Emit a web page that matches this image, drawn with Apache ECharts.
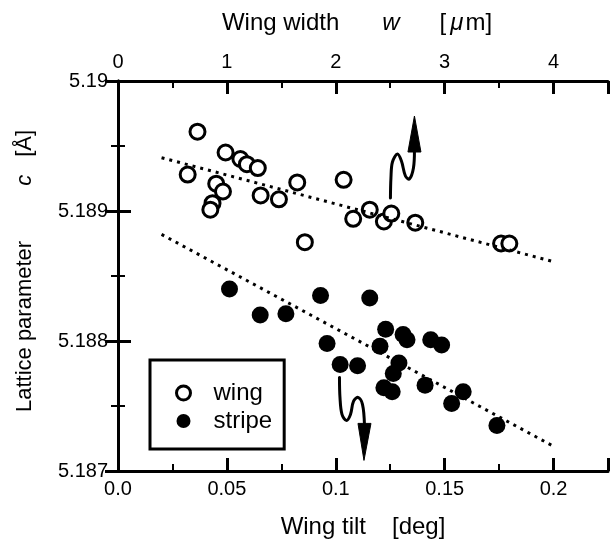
<!DOCTYPE html>
<html>
<head>
<meta charset="utf-8">
<script src="https://cdn.jsdelivr.net/npm/echarts@6/dist/echarts.min.js"></script>
<style>
    html, body { margin: 0; padding: 0; background: #fff; }
    #chart { width: 611px; height: 544px; }
</style>
</head>
<body>
<div id="chart"></div>
<script>
// wing: open circles, [tilt (deg), lattice parameter c (A)]
var wingTilt = [0.0365, 0.0320, 0.0494, 0.0562, 0.0592, 0.0642, 0.0451, 0.0482, 0.0434, 0.0424, 0.0655,
    0.0739, 0.0823, 0.0858, 0.1036, 0.1080, 0.1156, 0.1221, 0.1255, 0.1365, 0.1759, 0.1797];
var wingC = [5.18961, 5.18928, 5.18945, 5.18940, 5.18936, 5.18933, 5.18921, 5.18915, 5.18906, 5.18901, 5.18912,
    5.18909, 5.18922, 5.18876, 5.18924, 5.18894, 5.18901, 5.18892, 5.18898, 5.18891, 5.18875, 5.18875];
// stripe: filled circles
var stripeTilt = [0.0512, 0.0653, 0.0771, 0.0930, 0.1156, 0.0960, 0.1020, 0.1100, 0.1229, 0.1203, 0.1264,
    0.1221, 0.1309, 0.1327, 0.1436, 0.1486, 0.1290, 0.1259, 0.1410, 0.1585, 0.1532, 0.1740];
var stripeC = [5.18840, 5.18820, 5.18821, 5.18835, 5.18833, 5.18798, 5.18782, 5.18781, 5.18809, 5.18796, 5.18775,
    5.18764, 5.18805, 5.18801, 5.18801, 5.18797, 5.18783, 5.18761, 5.18766, 5.18761, 5.18752, 5.18735];
// dotted guide lines (end points)
var wingFitTilt = [0.02, 0.2];
var wingFitC = [5.18941, 5.18861];
var stripeFitTilt = [0.02, 0.2];
var stripeFitC = [5.18882, 5.18719];
// arrow tails (data coords)
var arrowUp = [0.1251, 5.18910];
var arrowDown = [0.1017, 5.18772];

var FONT = '"Liberation Sans", Arial, Helvetica, sans-serif';

function pairs(xs, ys) {
    return xs.map(function (x, i) { return [x, ys[i]]; });
}

var chart = echarts.init(document.getElementById("chart"));

var tickMajor = { show: true, inside: true, length: 13, lineStyle: { color: '#000', width: 3 } };
var tickMinor = { show: true, inside: true, length: 7, lineStyle: { color: '#000', width: 2 } };
var line3 = { show: true, lineStyle: { color: '#000', width: 3 } };
var labelStyle = { color: '#000', fontSize: 20, fontFamily: FONT };

function txt(size, extra) {
    return Object.assign({ fontSize: size, fontFamily: FONT, color: '#000' }, extra || {});
}
var bottomRich = {
    n: txt(24),
    b: txt(24, { padding: [0, 0, 0, 26] })
};
var topRich = {
    n: txt(24),
    w: txt(24, { fontStyle: 'italic', padding: [0, 40, 0, 43] }),
    mu: txt(24, { fontStyle: 'italic', padding: [0, 2, 0, 4] }),
    e: txt(24, { padding: [0, 12, 0, 0] })
};
var leftRich = {
    s: txt(22, { padding: [0, 0, 0, 10] }),
    n: txt(22),
    c: txt(22, { fontStyle: 'italic', padding: [0, 18, 0, 55] })
};

function minorAxis(pos, min, max, step) {
    return {
        type: 'value', position: pos, min: min, max: max, interval: step,
        axisLine: { show: false }, axisTick: tickMinor, axisLabel: { show: false }, splitLine: { show: false }
    };
}

var option = {
    animation: false,
    backgroundColor: '#fff',
    grid: { left: 118, top: 81, width: 495, height: 392 },
    legend: {
        orient: 'vertical',
        left: 150,
        top: 360,
        selectedMode: false,
        borderColor: '#000',
        borderWidth: 3,
        padding: [21, 12, 16, 25],
        itemWidth: 50,
        itemHeight: 14,
        itemGap: 4,
        textStyle: { fontSize: 24, fontFamily: FONT, color: '#000' },
        data: [
            { name: 'wing', itemStyle: { color: '#fff', borderColor: '#000', borderWidth: 3 } },
            { name: 'stripe' }
        ]
    },
    xAxis: [
        {
            type: 'value', position: 'bottom', min: 0, max: 0.225, interval: 0.05,
            axisLine: line3, axisTick: tickMajor, splitLine: { show: false },
            axisLabel: Object.assign({
                margin: 8,
                formatter: function (v) {
                    if (v > 0.21) return '';
                    return v === 0 ? '0.0' : String(+v.toFixed(3));
                }
            }, labelStyle),
            name: '{n|Wing tilt}{b|[deg]}',
            nameLocation: 'middle', nameGap: 44,
            nameTextStyle: { rich: bottomRich }
        },
        minorAxis('bottom', 0, 0.225, 0.025),
        {
            type: 'value', position: 'top', min: 0, max: 4.5, interval: 1,
            axisLine: line3, axisTick: tickMajor, splitLine: { show: false },
            axisLabel: Object.assign({
                margin: 9,
                formatter: function (v) { return v > 4.1 ? '' : String(v); }
            }, labelStyle),
            name: '{n|Wing width}{w|w}{n|[}{mu|μ}{e|m]}',
            nameLocation: 'middle', nameGap: 46,
            nameTextStyle: { rich: topRich }
        },
        minorAxis('top', 0, 4.5, 0.5)
    ],
    yAxis: [
        {
            type: 'value', position: 'left', min: 5.187, max: 5.19, interval: 0.001,
            axisLine: line3, axisTick: tickMajor, splitLine: { show: false },
            axisLabel: Object.assign({
                margin: 10,
                formatter: function (v) { return String(+v.toFixed(3)); }
            }, labelStyle),
            name: '{s|Lattice parameter}{c|c}{n|[Å]}',
            nameLocation: 'middle', nameGap: 82,
            nameTextStyle: { rich: leftRich }
        },
        {
            type: 'value', position: 'right', min: 5.187, max: 5.19, interval: 0.001,
            axisLine: line3, axisTick: tickMajor, splitLine: { show: false },
            axisLabel: { show: false }
        },
        minorAxis('left', 5.187, 5.19, 0.0005),
        minorAxis('right', 5.187, 5.19, 0.0005)
    ],
    series: [
        {
            name: 'wing-fit', type: 'line', xAxisIndex: 0, yAxisIndex: 0,
            data: pairs(wingFitTilt, wingFitC), symbol: 'none', silent: true,
            lineStyle: { color: '#000', width: 3, type: [3, 5] }
        },
        {
            name: 'stripe-fit', type: 'line', xAxisIndex: 0, yAxisIndex: 0,
            data: pairs(stripeFitTilt, stripeFitC), symbol: 'none', silent: true,
            lineStyle: { color: '#000', width: 3, type: [3, 5] }
        },
        {
            name: 'wing', type: 'scatter', xAxisIndex: 0, yAxisIndex: 0,
            data: pairs(wingTilt, wingC), symbol: 'circle', symbolSize: 15,
            itemStyle: { color: '#fff', borderColor: '#000', borderWidth: 3, opacity: 1 }
        },
        {
            name: 'stripe', type: 'scatter', xAxisIndex: 0, yAxisIndex: 0,
            data: pairs(stripeTilt, stripeC), symbol: 'circle', symbolSize: 17,
            itemStyle: { color: '#000', opacity: 1 }
        }
    ]
};
chart.setOption(option);

// wavy arrows drawn relative to their tail point
function wavyArrow(tail, pts, head) {
    var p = chart.convertToPixel({ xAxisIndex: 0, yAxisIndex: 0 }, tail);
    return {
        type: 'group', x: p[0], y: p[1], silent: true,
        children: [
            {
                type: 'polyline',
                shape: { points: pts, smooth: 0.35 },
                style: { fill: 'none', stroke: '#000', lineWidth: 3, lineCap: 'round', lineJoin: 'round' }
            },
            {
                type: 'polygon',
                shape: { points: head },
                style: { fill: '#000', stroke: '#000', lineWidth: 1 }
            }
        ]
    };
}

chart.setOption({
    graphic: [
        wavyArrow(arrowUp,
            [[0, 0], [0.5, -20], [2, -36], [7, -44], [11, -37], [15, -22], [19, -19], [23, -30], [24, -48]],
            [[24, -82], [17.5, -46], [30.5, -46]]),
        wavyArrow(arrowDown,
            [[0, 0], [0.5, 20], [2.5, 37], [7, 43], [11, 37], [14, 24], [18.5, 20], [23, 27], [25, 48]],
            [[24.5, 83], [18.5, 46], [31.5, 46]])
    ]
});
</script>
</body>
</html>
